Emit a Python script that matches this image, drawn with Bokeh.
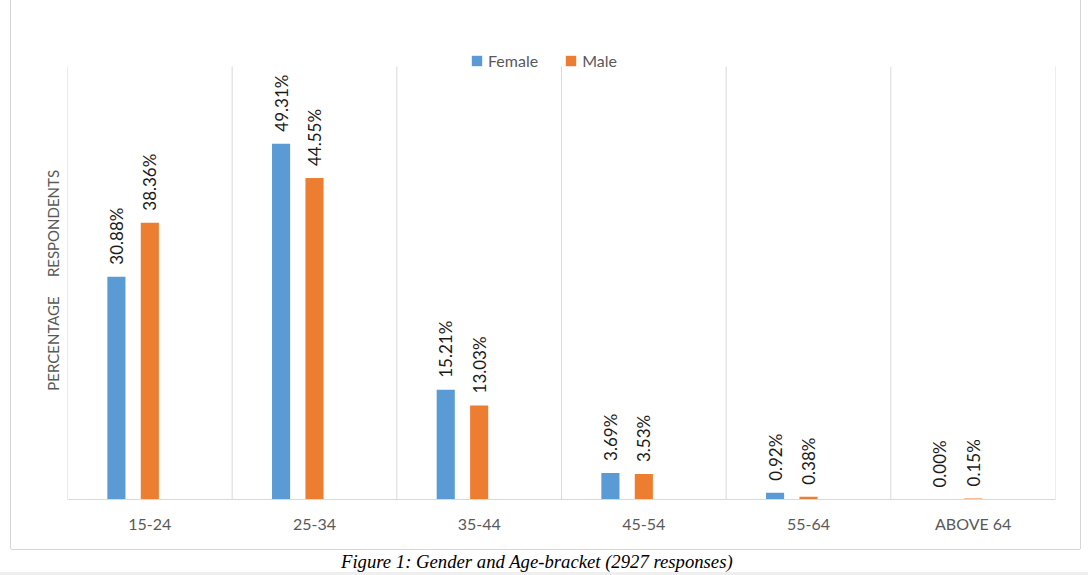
import math
from bokeh.plotting import figure
from bokeh.models import (FactorRange, Range1d, FixedTicker, Legend, LegendItem, Div, ColumnDataSource)
from bokeh.transform import dodge
from bokeh.layouts import column
from bokeh.core.properties import value
from bokeh.embed import file_html
from bokeh.resources import INLINE

# ---- data ----
categories = ["15-24", "25-34", "35-44", "45-54", "55-64", "ABOVE 64"]
female = [30.88, 49.31, 15.21, 3.69, 0.92, 0.00]
male = [38.36, 44.55, 13.03, 3.53, 0.38, 0.15]
female_labels = [f"{v:.2f}%" for v in female]
male_labels = [f"{v:.2f}%" for v in male]
y_label = "PERCENTAGE\u00a0\u00a0\u00a0\u00a0\u00a0RESPONDENTS" + "\u00a0" * 8
caption_text = "Figure 1: Gender and Age-bracket (2927 responses)"
y_max = 60        # value axis maximum
y_view = 65       # frame top (room for legend)

FONT = "Lato"
BLUE = "#5B9BD5"
ORANGE = "#ED7D31"
GRID = "#d9d9d9"
GRAYTXT = "#595959"

src = ColumnDataSource(dict(cat=categories, female=female, male=male,
                            fl=female_labels, ml=male_labels))

p = figure(x_range=FactorRange(*categories), y_range=Range1d(0, y_view),
           width=1069, height=549, output_backend="svg", toolbar_location=None,
           min_border_left=56, min_border_right=25, min_border_top=30, min_border_bottom=50)
p.margin = (0, 0, 0, 11)
p.styles = {"box-shadow": "-1px 0 0 0 #d6d6d6, 1px 0 0 0 #d6d6d6, 0 1px 0 0 #d6d6d6"}
p.outline_line_color = None
p.xgrid.visible = False
p.ygrid.visible = False
p.background_fill_color = "white"
p.border_fill_color = "white"

# vertical category separators (grid)
bounds = list(range(0, len(categories) + 1))
p.segment(x0=bounds, x1=bounds, y0=[0] * len(bounds), y1=[y_max] * len(bounds),
          line_color=GRID, line_width=1)

W = 0.11
OFF_F = -0.203
OFF_M = 0.0
rf = p.vbar(x=dodge("cat", OFF_F, range=p.x_range), top="female", width=W, source=src,
            fill_color=BLUE, line_color=None)
rm = p.vbar(x=dodge("cat", OFF_M, range=p.x_range), top="male", width=W, source=src,
            fill_color=ORANGE, line_color=None)

for off, col, lab in ((OFF_F, "female", "fl"), (OFF_M, "male", "ml")):
    p.text(x=dodge("cat", off, range=p.x_range), y=col, text=lab, source=src,
           angle=math.pi / 2, text_align="left", text_baseline="middle",
           y_offset=-12, text_font=value(FONT), text_font_size="17px", text_color="#1a1a1a")

# axes
xa = p.xaxis[0]
xa.axis_line_color = GRID
xa.axis_line_width = 1
xa.major_tick_line_color = None
xa.major_tick_out = 0
xa.major_tick_in = 0
xa.major_label_standoff = 14
xa.major_label_text_font = FONT
xa.major_label_text_font_size = "16px"
xa.major_label_text_color = GRAYTXT

ya = p.yaxis[0]
ya.ticker = FixedTicker(ticks=[])
ya.axis_line_color = None
ya.major_tick_line_color = None
ya.minor_tick_line_color = None
ya.major_tick_out = 0
ya.major_label_standoff = 0
ya.axis_label = y_label
ya.axis_label_standoff = 6
ya.axis_label_text_font = FONT
ya.axis_label_text_font_style = "normal"
ya.axis_label_text_font_size = "15px"
ya.axis_label_text_color = GRAYTXT

legend = Legend(items=[LegendItem(label="Female", renderers=[rf]),
                       LegendItem(label="Male", renderers=[rm])],
                orientation="horizontal", location=(403, 429),
                glyph_width=13, glyph_height=13, label_standoff=5, spacing=26,
                padding=0, margin=0, border_line_color=None, background_fill_alpha=0,
                label_text_font=FONT, label_text_font_size="16px", label_text_color=GRAYTXT)
p.add_layout(legend)

cap = Div(text=f'<div style="font-family:\'Liberation Serif\',serif;white-space:nowrap;'
               f'font-style:italic;font-size:18.7px;color:#000;line-height:20px">{caption_text}</div>',
          width=420, height=20)
cap.margin = (3, 0, 0, 341)

band = Div(text="", width=1088, height=3, styles={"background-color": "#efefef"})
band.margin = (0, 0, 0, 0)

layout = column(p, cap, band)
open("out.html", "w").write(file_html(layout, INLINE))
